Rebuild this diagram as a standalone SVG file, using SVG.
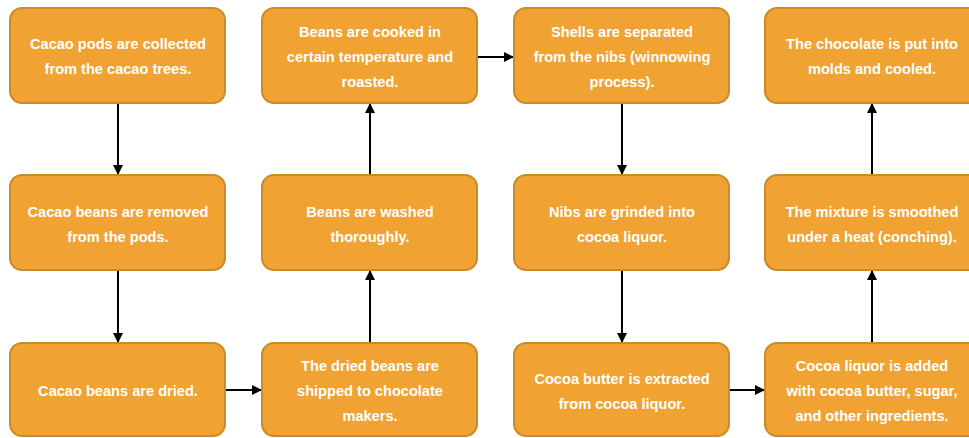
<svg xmlns="http://www.w3.org/2000/svg" width="969" height="438" viewBox="0 0 969 438">
<defs>
<marker id="ah" viewBox="0 0 10 10" refX="9" refY="5" markerWidth="5" markerHeight="5" orient="auto" markerUnits="strokeWidth">
<path d="M0,0 L10,5 L0,10 z" fill="#000"/>
</marker>
</defs>
<style>
.box{fill:#F0A232;stroke:#C98A2A;stroke-width:2}
.t{fill:#fff;font-family:"Liberation Sans",Arial,sans-serif;font-weight:bold;font-size:14.6px;text-anchor:middle}
.c{stroke:#000;stroke-width:2;fill:none;marker-end:url(#ah)}
</style>
<rect width="969" height="438" fill="#fff"/>
<g id="connectors">
<line class="c" x1="118" y1="103" x2="118" y2="174"/>
<line class="c" x1="118" y1="270" x2="118" y2="342"/>
<line class="c" x1="225" y1="390" x2="261" y2="390"/>
<line class="c" x1="370" y1="343" x2="370" y2="271"/>
<line class="c" x1="370" y1="175" x2="370" y2="104"/>
<line class="c" x1="477" y1="57" x2="513" y2="57"/>
<line class="c" x1="622" y1="103" x2="622" y2="174"/>
<line class="c" x1="622" y1="270" x2="622" y2="342"/>
<line class="c" x1="729" y1="390" x2="764" y2="390"/>
<line class="c" x1="872" y1="343" x2="872" y2="271"/>
<line class="c" x1="872" y1="175" x2="872" y2="104"/>
</g>
<g id="n1"><rect class="box" x="10" y="8" width="215" height="95" rx="12"/>
<text class="t" x="118" y="49">Cacao pods are collected</text><text class="t" x="118" y="74">from the cacao trees.</text></g>
<g id="n2"><rect class="box" x="10" y="175" width="215" height="95" rx="12"/>
<text class="t" x="118" y="217">Cacao beans are removed</text><text class="t" x="118" y="242">from the pods.</text></g>
<g id="n3"><rect class="box" x="10" y="343" width="215" height="93" rx="12"/>
<text class="t" x="118" y="396">Cacao beans are dried.</text></g>
<g id="n4"><rect class="box" x="262" y="343" width="215" height="93" rx="12"/>
<text class="t" x="370" y="371">The dried beans are</text><text class="t" x="370" y="396">shipped to chocolate</text><text class="t" x="370" y="421">makers.</text></g>
<g id="n5"><rect class="box" x="262" y="175" width="215" height="95" rx="12"/>
<text class="t" x="370" y="217">Beans are washed</text><text class="t" x="370" y="242">thoroughly.</text></g>
<g id="n6"><rect class="box" x="262" y="8" width="215" height="95" rx="12"/>
<text class="t" x="370" y="37">Beans are cooked in</text><text class="t" x="370" y="62">certain temperature and</text><text class="t" x="370" y="87">roasted.</text></g>
<g id="n7"><rect class="box" x="514" y="8" width="215" height="95" rx="12"/>
<text class="t" x="622" y="37">Shells are separated</text><text class="t" x="622" y="62">from the nibs (winnowing</text><text class="t" x="622" y="87">process).</text></g>
<g id="n8"><rect class="box" x="514" y="175" width="215" height="95" rx="12"/>
<text class="t" x="622" y="217">Nibs are grinded into</text><text class="t" x="622" y="242">cocoa liquor.</text></g>
<g id="n9"><rect class="box" x="514" y="343" width="215" height="93" rx="12"/>
<text class="t" x="622" y="384">Cocoa butter is extracted</text><text class="t" x="622" y="409">from cocoa liquor.</text></g>
<g id="n10"><rect class="box" x="765" y="343" width="215" height="93" rx="12"/>
<text class="t" x="872" y="371">Cocoa liquor is added</text><text class="t" x="872" y="396">with cocoa butter, sugar,</text><text class="t" x="872" y="421">and other ingredients.</text></g>
<g id="n11"><rect class="box" x="765" y="175" width="215" height="95" rx="12"/>
<text class="t" x="872" y="217">The mixture is smoothed</text><text class="t" x="872" y="242">under a heat (conching).</text></g>
<g id="n12"><rect class="box" x="765" y="8" width="215" height="95" rx="12"/>
<text class="t" x="872" y="49">The chocolate is put into</text><text class="t" x="872" y="74">molds and cooled.</text></g>
</svg>
